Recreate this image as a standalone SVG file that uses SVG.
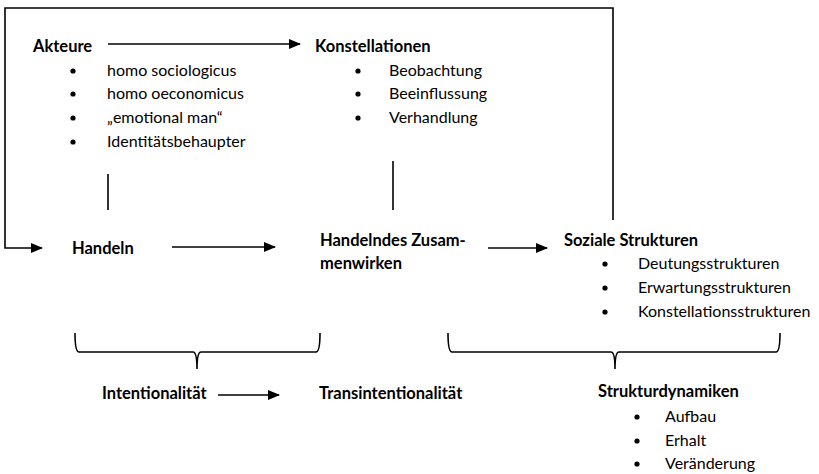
<svg xmlns="http://www.w3.org/2000/svg" width="819" height="474" viewBox="0 0 819 474">
<defs>
<marker id="ah" markerWidth="12" markerHeight="10" refX="11" refY="5" orient="auto" markerUnits="userSpaceOnUse">
<path d="M0,0 L12,5 L0,10 Z" fill="#000"/>
</marker>
<style>
text{font-family:Lato,"Open Sans",sans-serif;font-size:16px;fill:#000}
.b{font-weight:bold;font-size:16.5px}
.ln{stroke:#000;stroke-width:1.6;fill:none}
</style>
</defs>
<rect width="819" height="474" fill="#fff"/>
<g id="connectors">
<path class="ln" d="M613,220 L613,8 L5,8 L5,248 L42,248" marker-end="url(#ah)"/>
<line class="ln" x1="108" y1="44" x2="300" y2="44" marker-end="url(#ah)"/>
<line class="ln" x1="108" y1="174" x2="108" y2="210"/>
<line class="ln" x1="393" y1="161" x2="393" y2="210"/>
<line class="ln" x1="172" y1="247" x2="275" y2="247" marker-end="url(#ah)"/>
<line class="ln" x1="488" y1="248" x2="547" y2="248" marker-end="url(#ah)"/>
<line class="ln" x1="218" y1="395" x2="279" y2="395" marker-end="url(#ah)"/>
<path class="ln" d="M75,333 Q75,352 79,352 L193,352 Q197,352 197,369 Q197,352 201,352 L316,352 Q320,352 320,333"/>
<path class="ln" d="M448,333 Q448,352 452,352 L611,352 Q615,352 615,369 Q615,352 619,352 L776,352 Q780,352 780,333"/>
</g>
<g id="akteure">
<text class="b" x="33" y="52">Akteure</text>
<circle cx="73" cy="71" r="2.6"/><text x="107" y="76">homo sociologicus</text>
<circle cx="73" cy="94" r="2.6"/><text x="107" y="99">homo oeconomicus</text>
<circle cx="73" cy="118" r="2.6"/><text x="107" y="123">„emotional man“</text>
<circle cx="73" cy="142" r="2.6"/><text x="107" y="147">Identitätsbehaupter</text>
</g>
<g id="konstellationen">
<text class="b" x="315" y="52">Konstellationen</text>
<circle cx="358" cy="71" r="2.6"/><text x="389" y="76">Beobachtung</text>
<circle cx="358" cy="94" r="2.6"/><text x="389" y="99">Beeinflussung</text>
<circle cx="358" cy="118" r="2.6"/><text x="389" y="123">Verhandlung</text>
</g>
<g id="handeln"><text class="b" x="72" y="254">Handeln</text></g>
<g id="zusammenwirken">
<text class="b" x="320" y="246">Handelndes Zusam-</text>
<text class="b" x="320" y="269">menwirken</text>
</g>
<g id="soziale">
<text class="b" x="564" y="246">Soziale Strukturen</text>
<circle cx="605" cy="264" r="2.6"/><text x="638" y="269">Deutungsstrukturen</text>
<circle cx="605" cy="288" r="2.6"/><text x="638" y="293">Erwartungsstrukturen</text>
<circle cx="605" cy="312" r="2.6"/><text x="638" y="317">Konstellationsstrukturen</text>
</g>
<g id="intentionalitaet"><text class="b" x="102" y="399">Intentionalität</text></g>
<g id="transintentionalitaet"><text class="b" x="319" y="399">Transintentionalität</text></g>
<g id="strukturdynamiken">
<text class="b" x="598" y="397">Strukturdynamiken</text>
<circle cx="637" cy="417" r="2.6"/><text x="665" y="422">Aufbau</text>
<circle cx="637" cy="441" r="2.6"/><text x="665" y="446">Erhalt</text>
<circle cx="637" cy="464" r="2.6"/><text x="665" y="469">Veränderung</text>
</g>
</svg>
